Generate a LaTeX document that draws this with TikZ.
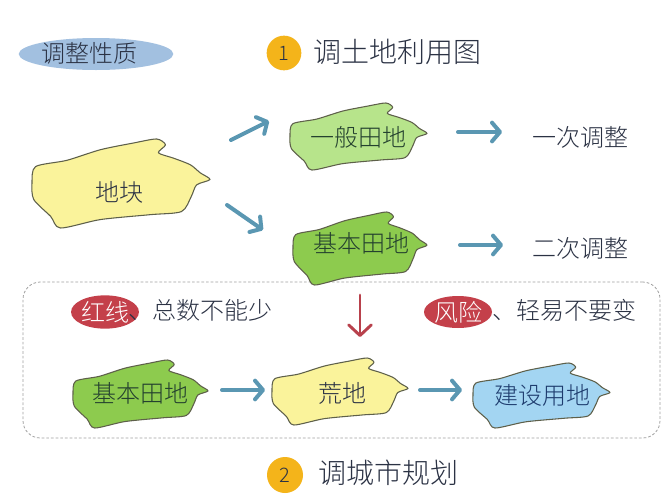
\documentclass[tikz,border=0pt]{standalone}
\usepackage{fontspec}
\setmainfont{Noto Sans CJK SC}[UprightFont={* Light}]
\usetikzlibrary{arrows.meta,shapes.geometric}
\definecolor{ink}{HTML}{2B3244}
\definecolor{greenink}{HTML}{24412F}
\definecolor{blueink}{HTML}{1E3C6E}
\definecolor{blobedge}{HTML}{5E604A}
\definecolor{yellowland}{HTML}{FAF39B}
\definecolor{lightgreen}{HTML}{B7E48B}
\definecolor{midgreen}{HTML}{8DCB4E}
\definecolor{lightblue}{HTML}{A3D5F2}
\definecolor{ovalblue}{HTML}{A2C0E0}
\definecolor{badgeorange}{HTML}{F4B41A}
\definecolor{badgered}{HTML}{C4404A}
\definecolor{arrowblue}{HTML}{5A97B2}
\definecolor{arrowred}{HTML}{B8414C}
\newcommand\landblob[5]{%
  \begin{scope}[shift={(#1,#2)}, xscale=#3, yscale=#4]
    \draw[blobline, fill=#5] plot[smooth cycle, tension=0.45] coordinates {
      (-1.00,-0.01) (-0.96,-0.38) (-0.61,-0.52) (-0.23,-0.76) (0.14,-0.91)
      (0.40,-1.00) (0.50,-0.87) (0.42,-0.69) (0.59,-0.57) (0.78,-0.42)
      (0.89,-0.24) (1.00,-0.09) (0.85,0.03) (0.79,0.29) (0.68,0.63)
      (0.33,0.70) (-0.23,0.81) (-0.68,1.00) (-0.79,0.74) (-0.98,0.36)};
  \end{scope}}
\tikzset{
  blobline/.style={draw=blobedge, line width=0.8pt, line join=round},
  lbl/.style={font=\fontsize{18}{20}\selectfont, text=ink, inner sep=0pt},
  biglbl/.style={font=\fontsize{21}{23}\selectfont, text=ink, inner sep=0pt},
  arr/.style={draw=arrowblue, line width=3pt, line cap=round, line join=round,
    -{Straight Barb[length=6pt,width=14pt,line cap=round,line join=round]}},
  redarr/.style={draw=arrowred, line width=2.2pt, line cap=round, line join=round,
    -{Straight Barb[length=8pt,width=17pt,line cap=round,line join=round]}},
  badge/.style={ellipse, inner sep=0pt},
}
\begin{document}
\begin{tikzpicture}[x=0.75pt, y=-0.75pt]
\fill[white] (0,0) rectangle (665,504);
\useasboundingbox (0,0) rectangle (665,504);

% header
\node[badge, fill=ovalblue, minimum width=116pt, minimum height=24pt] (xz) at (96,54) {};
\node[lbl, text=ink] (xzt) at (89,53) {调整性质};
\node[circle, fill=badgeorange, minimum size=26pt, inner sep=0pt, font=\fontsize{15}{16}\selectfont, text=ink] (c1) at (284,53) {1};
\node[biglbl] (t1) at (397,52) {调土地利用图};

% dashed frame
\node[draw=gray!75, dash pattern=on 2pt off 1.5pt, line width=0.6pt, rounded corners=13pt,
  minimum width=477.75pt, minimum height=117pt, inner sep=0pt] (frame) at (341.5,360) {};

% top blobs
\landblob{121}{183.5}{89}{44.5}{yellowland}
\node[lbl] (dk) at (119,192) {地块};
\landblob{358.5}{136.5}{68.5}{33.5}{lightgreen}
\node[lbl, text=greenink] (yb) at (358,137) {一般田地};
\landblob{360}{248.5}{67}{36.5}{midgreen}
\node[lbl, text=greenink] (jb) at (361,243) {基本田地};

\node[lbl] (yc) at (580,137) {一次调整};
\node[lbl] (ec) at (580,248) {二次调整};

% red notes
\node[badge, fill=badgered, minimum width=50pt, minimum height=25pt, lbl, text=white] (hx) at (105,312) {红线};
\node[lbl, anchor=west] (hxt) at (128,310) {、总数不能少};
\node[badge, fill=badgered, minimum width=51pt, minimum height=24pt, lbl, text=white] (fx) at (458,312) {风险};
\node[lbl, anchor=west] (fxt) at (492,310) {、轻易不要变};

% bottom blobs
\landblob{140.5}{394}{67.5}{34}{midgreen}
\node[lbl, text=greenink] (jb2) at (140,393) {基本田地};
\landblob{340}{391.5}{68}{33.5}{yellowland}
\node[lbl] (hd) at (342,393) {荒地};
\landblob{541.5}{395.5}{68.5}{32.5}{lightblue}
\node[lbl, text=blueink] (js) at (542,395) {建设用地};

% footer
\node[circle, fill=badgeorange, minimum size=27pt, inner sep=0pt, font=\fontsize{15}{16}\selectfont, text=ink] (c2) at (285,475) {2};
\node[biglbl] (t2) at (388,473) {调城市规划};

% arrows
\draw[arr] ([shift={(112,-52)}]dk.center) -- ([shift={(-89,-16)}]yb.center);
\draw[arr] ([shift={(108,13)}]dk.center) -- ([shift={(-98,-13)}]jb.center);
\draw[arr] ([shift={(100,-5)}]yb.center) -- ([shift={(-78,-5)}]yc.center);
\draw[arr] ([shift={(99,2)}]jb.center) -- ([shift={(-77,-3)}]ec.center);
\draw[redarr] ([shift={(-1,52)}]jb.center) -- ([shift={(18,-56)}]hd.center);
\draw[arr] ([shift={(82,-3)}]jb2.center) -- ([shift={(-77,-3)}]hd.center);
\draw[arr] ([shift={(78,-3)}]hd.center) -- ([shift={(-80,-5)}]js.center);
\end{tikzpicture}
\end{document}
